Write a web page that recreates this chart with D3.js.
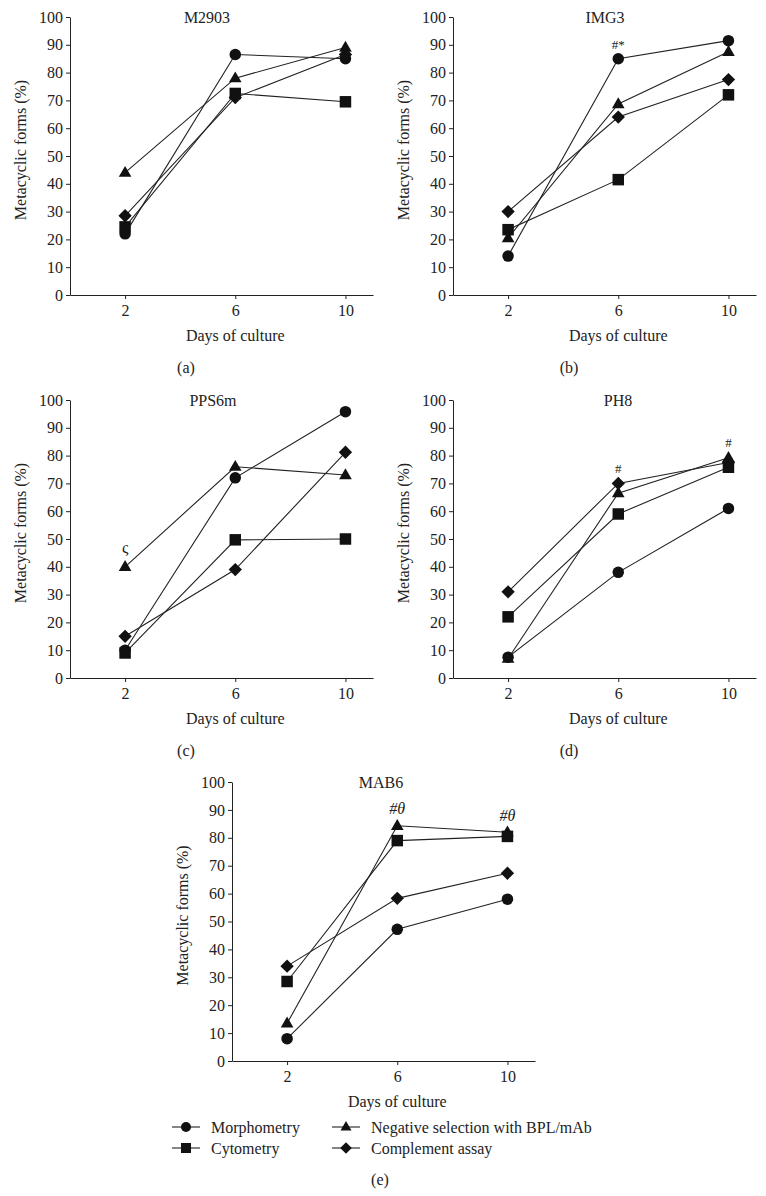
<!DOCTYPE html>
<html>
<head>
<meta charset="utf-8">
<script src="https://cdn.jsdelivr.net/npm/d3@7"></script>
<style>
    body { margin: 0; background: #fff; }
    text { font-family: "Liberation Serif", "Times New Roman", serif; fill: #222; }
</style>
</head>
<body>
<div id="chart"></div>
<script>
const width = 766;
const height = 1196;

const days = [2, 6, 10];
const yTicks = [0, 10, 20, 30, 40, 50, 60, 70, 80, 90, 100];
const seriesNames = ["Morphometry", "Cytometry", "Negative selection with BPL/mAb", "Complement assay"];
const shapes = ["circle", "square", "triangle", "diamond"];
const strains = ["M2903", "IMG3", "PPS6m", "PH8", "MAB6"];
const tags = ["(a)", "(b)", "(c)", "(d)", "(e)"];

// one row per series (morphometry, cytometry, negative selection, complement), values at day 2, 6, 10
const M2903 = [[22, 86.5, 85], [24.5, 72.5, 69.5], [44, 78, 89], [28.5, 71, 86.5]];
const IMG3 = [[14, 85, 91.5], [23.5, 41.5, 72], [20.5, 68.7, 87.5], [30, 64, 77.5]];
const PPS6m = [[10, 72, 95.8], [9, 49.7, 50], [40, 76, 73], [15, 39, 81.2]];
const PH8 = [[7.5, 38, 61], [22, 59, 75.8], [7, 66.5, 79.2], [31, 70, 77.5]];
const MAB6 = [[8, 47.2, 58], [28.5, 79, 80.5], [13.5, 84.3, 82], [34, 58.3, 67.3]];
const values = [M2903, IMG3, PPS6m, PH8, MAB6];

// significance marks: [panel, day, level, text]
const marks = [
    [1, 6, 90, "#*"],
    [2, 2, 46.8, "ς"],
    [3, 6, 75.5, "#"],
    [3, 10, 84.9, "#"],
    [4, 6, 90.7, "#θ"],
    [4, 10, 88.2, "#θ"]
];

// panel frames
const panels = [
    { x: 70, w: 303, top: 17, bottom: 295, titleX: 207, tagX: 186 },
    { x: 453, w: 303, top: 17, bottom: 295, titleX: 605, tagX: 569 },
    { x: 70, w: 303, top: 400, bottom: 678, titleX: 213, tagX: 186 },
    { x: 453, w: 303, top: 400, bottom: 678, titleX: 618, tagX: 569 },
    { x: 232, w: 303, top: 782, bottom: 1061, titleX: 381, tagX: 380 }
];

const svg = d3.select("#chart")
    .append("svg")
    .attr("width", width)
    .attr("height", height);

svg.append("rect").attr("width", width).attr("height", height).attr("fill", "#fff");

function symbolPath(shape, s) {
    if (shape === "circle") return d3.symbol(d3.symbolCircle, Math.PI * s * s * 0.25)();
    if (shape === "square") return d3.symbol(d3.symbolSquare, s * s)();
    if (shape === "triangle") {
        const h = s * 0.95, w = s * 1.1;
        return `M0,${-h * 0.62}L${w / 2},${h * 0.38}L${-w / 2},${h * 0.38}Z`;
    }
    const r = s * 0.58;
    return `M0,${-r}L${r},0L0,${r}L${-r},0Z`;
}

panels.forEach((p, i) => {
    const g = svg.append("g");
    const x = d3.scaleLinear().domain([0, 11]).range([p.x, p.x + p.w]);
    const y = d3.scaleLinear().domain([0, 100]).range([p.bottom, p.top]);

    const xAxis = g.append("g")
        .attr("transform", `translate(0,${p.bottom})`)
        .call(d3.axisBottom(x).tickValues(days).tickSize(4).tickSizeOuter(0).tickPadding(6));
    const yAxis = g.append("g")
        .attr("transform", `translate(${p.x},0)`)
        .call(d3.axisLeft(y).tickValues(yTicks).tickSize(4).tickSizeOuter(0).tickPadding(3));
    [xAxis, yAxis].forEach(a => {
        a.selectAll("text").style("font-size", "16px").attr("fill", "#222");
        a.selectAll("line, path").attr("stroke", "#222");
    });

    g.append("text")
        .attr("x", p.titleX)
        .attr("y", p.top + 6)
        .attr("text-anchor", "middle")
        .style("font-size", "16px")
        .text(strains[i]);

    g.append("text")
        .attr("transform", `translate(${p.x - 50},${(p.top + p.bottom) / 2 - 6}) rotate(-90)`)
        .attr("text-anchor", "middle")
        .attr("dy", "0.35em")
        .style("font-size", "16px")
        .text("Metacyclic forms (%)");

    g.append("text")
        .attr("x", x(6))
        .attr("y", p.bottom + 46)
        .attr("text-anchor", "middle")
        .style("font-size", "16px")
        .text("Days of culture");

    const tagY = i === 4 ? p.bottom + 124 : p.bottom + 78;
    g.append("text")
        .attr("x", p.tagX)
        .attr("y", tagY)
        .attr("text-anchor", "middle")
        .style("font-size", "16px")
        .text(tags[i]);

    const line = d3.line().x((d, k) => x(days[k])).y(d => y(d));
    values[i].forEach(vals => {
        g.append("path")
            .datum(vals)
            .attr("d", line)
            .attr("fill", "none")
            .attr("stroke", "#222")
            .attr("stroke-width", 1.1);
    });
    values[i].forEach((vals, s) => {
        g.selectAll(null)
            .data(vals)
            .enter().append("path")
            .attr("transform", (d, k) => `translate(${x(days[k])},${y(d)})`)
            .attr("d", symbolPath(shapes[s], 11.5))
            .attr("fill", "#111");
    });

    marks.filter(m => m[0] === i).forEach(m => {
        const big = m[3].includes("θ") || m[3] === "ς";
        g.append("text")
            .attr("x", x(m[1]))
            .attr("y", y(m[2]))
            .attr("dy", "0.35em")
            .attr("text-anchor", "middle")
            .style("font-size", big ? "16px" : "13px")
            .style("font-style", m[3].includes("θ") ? "italic" : "normal")
            .text(m[3]);
    });
});

// legend
const legendPos = [[172, 1127], [172, 1148], [332, 1127], [332, 1148]];
seriesNames.forEach((name, s) => {
    const [lx, ly] = legendPos[s];
    const lg = svg.append("g").attr("transform", `translate(${lx},${ly})`);
    lg.append("line")
        .attr("x1", 0).attr("x2", 28)
        .attr("y1", 0).attr("y2", 0)
        .attr("stroke", "#222")
        .attr("stroke-width", 1.1);
    lg.append("path")
        .attr("transform", "translate(14,0)")
        .attr("d", symbolPath(shapes[s], 10))
        .attr("fill", "#111");
    lg.append("text")
        .attr("x", 39)
        .attr("y", 0)
        .attr("dy", "0.35em")
        .style("font-size", "16px")
        .text(name);
});
</script>
</body>
</html>
